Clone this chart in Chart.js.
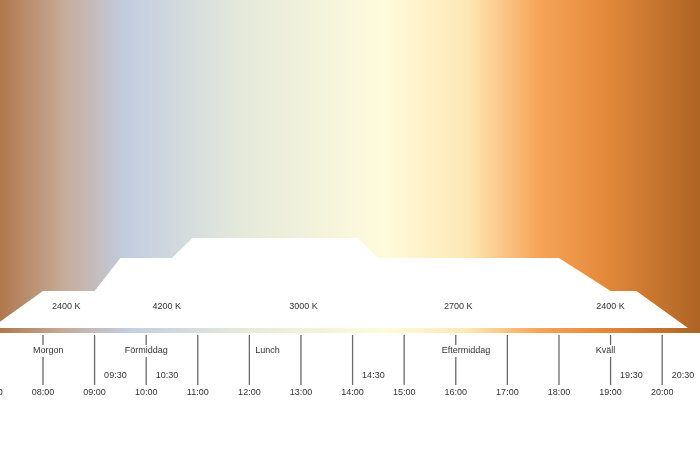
<!DOCTYPE html>
<html>
<head>
<meta charset="utf-8">
<script src="https://cdn.jsdelivr.net/npm/chart.js@4/dist/chart.umd.min.js"></script>
<style>
  html, body { margin: 0; padding: 0; background: #fff; }
  #wrap { width: 700px; height: 450px; }
</style>
</head>
<body>
<div id="wrap"><canvas id="lightChart"></canvas></div>
<script>
// Light profile over the day — colour temperature backdrop
const profileHours = [7, 8, 9, 9.5, 10.5, 10.9, 14.1, 14.5, 18, 19, 19.5, 20.5];
const profileLevel = [0, 37, 37, 70, 70, 90, 90, 70, 70, 37, 37, 0];

const hourTicks = [7, 8, 9, 10, 11, 12, 13, 14, 15, 16, 17, 18, 19, 20];
const hourLabels = ["07:00", "08:00", "09:00", "10:00", "11:00", "12:00", "13:00",
  "14:00", "15:00", "16:00", "17:00", "18:00", "19:00", "20:00"];
const halfHours = [9.5, 10.5, 14.5, 19.5, 20.5];
const halfLabels = ["09:30", "10:30", "14:30", "19:30", "20:30"];

const kelvinHours = [8.45, 10.4, 13.05, 16.05, 19.0];
const kelvinLabels = ["2400 K", "4200 K", "3000 K", "2700 K", "2400 K"];
const kelvinLevel = 21;

const periodHours = [8.1, 10.0, 12.35, 16.2, 18.9];
const periodLabels = ["Morgon", "Förmiddag", "Lunch", "Eftermiddag", "Kväll"];

const tempColors = [
  [0.0, "#b0774c"], [0.09, "#c6ab98"], [0.18, "#c2cde0"], [0.35, "#e6eadb"],
  [0.55, "#fffbdc"], [0.67, "#fde7b4"], [0.77, "#f6a458"], [0.86, "#e58a3c"],
  [1.0, "#ad6424"]
];

const decor = {
  id: "decor",
  beforeDatasetsDraw(chart) {
    const { ctx, chartArea: a } = chart;
    const g = ctx.createLinearGradient(a.left, 0, a.right, 0);
    tempColors.forEach(c => g.addColorStop(c[0], c[1]));
    ctx.save();
    ctx.fillStyle = g;
    ctx.fillRect(a.left, a.top, a.right - a.left, a.bottom - a.top);
    ctx.restore();
  },
  afterDatasetsDraw(chart) {
    const { ctx, chartArea: a, scales: { x, y } } = chart;
    ctx.save();
    ctx.font = "9px 'Liberation Sans', Arial, sans-serif";
    ctx.fillStyle = "#333";
    ctx.textAlign = "center";
    ctx.textBaseline = "middle";
    kelvinHours.forEach((h, i) => ctx.fillText(kelvinLabels[i], x.getPixelForValue(h), y.getPixelForValue(kelvinLevel)));

    ctx.strokeStyle = "#6a6a6a";
    ctx.lineWidth = 1.3;
    hourTicks.forEach((h, i) => {
      const px = x.getPixelForValue(h);
      if (h >= 8) {
        ctx.beginPath();
        ctx.moveTo(px, a.bottom + 2);
        ctx.lineTo(px, a.bottom + 52);
        ctx.stroke();
      }
      ctx.fillText(hourLabels[i], px, a.bottom + 60);
    });
    halfHours.forEach((h, i) => ctx.fillText(halfLabels[i], x.getPixelForValue(h) - 5, a.bottom + 43));
    periodHours.forEach((h, i) => {
      const px = x.getPixelForValue(h);
      const w = ctx.measureText(periodLabels[i]).width + 4;
      ctx.fillStyle = "#fff";
      ctx.fillRect(px - w / 2, a.bottom + 12, w, 12);
      ctx.fillStyle = "#333";
      ctx.fillText(periodLabels[i], px, a.bottom + 18);
    });
    ctx.restore();
  }
};

new Chart(document.getElementById("lightChart"), {
  type: "line",
  data: {
    datasets: [{
      data: profileHours.map((h, i) => ({ x: h, y: profileLevel[i] })),
      borderWidth: 0,
      pointRadius: 0,
      backgroundColor: "#ffffff",
      fill: "origin",
      tension: 0
    }]
  },
  options: {
    responsive: true,
    maintainAspectRatio: false,
    animation: false,
    layout: { padding: { left: 0, right: 0, top: 0, bottom: 117 } },
    plugins: { legend: { display: false }, tooltip: { enabled: false } },
    scales: {
      x: { type: "linear", min: 7.167, max: 20.733, display: false },
      y: { min: -5, max: 328, display: false }
    }
  },
  plugins: [decor]
});
</script>
</body>
</html>
